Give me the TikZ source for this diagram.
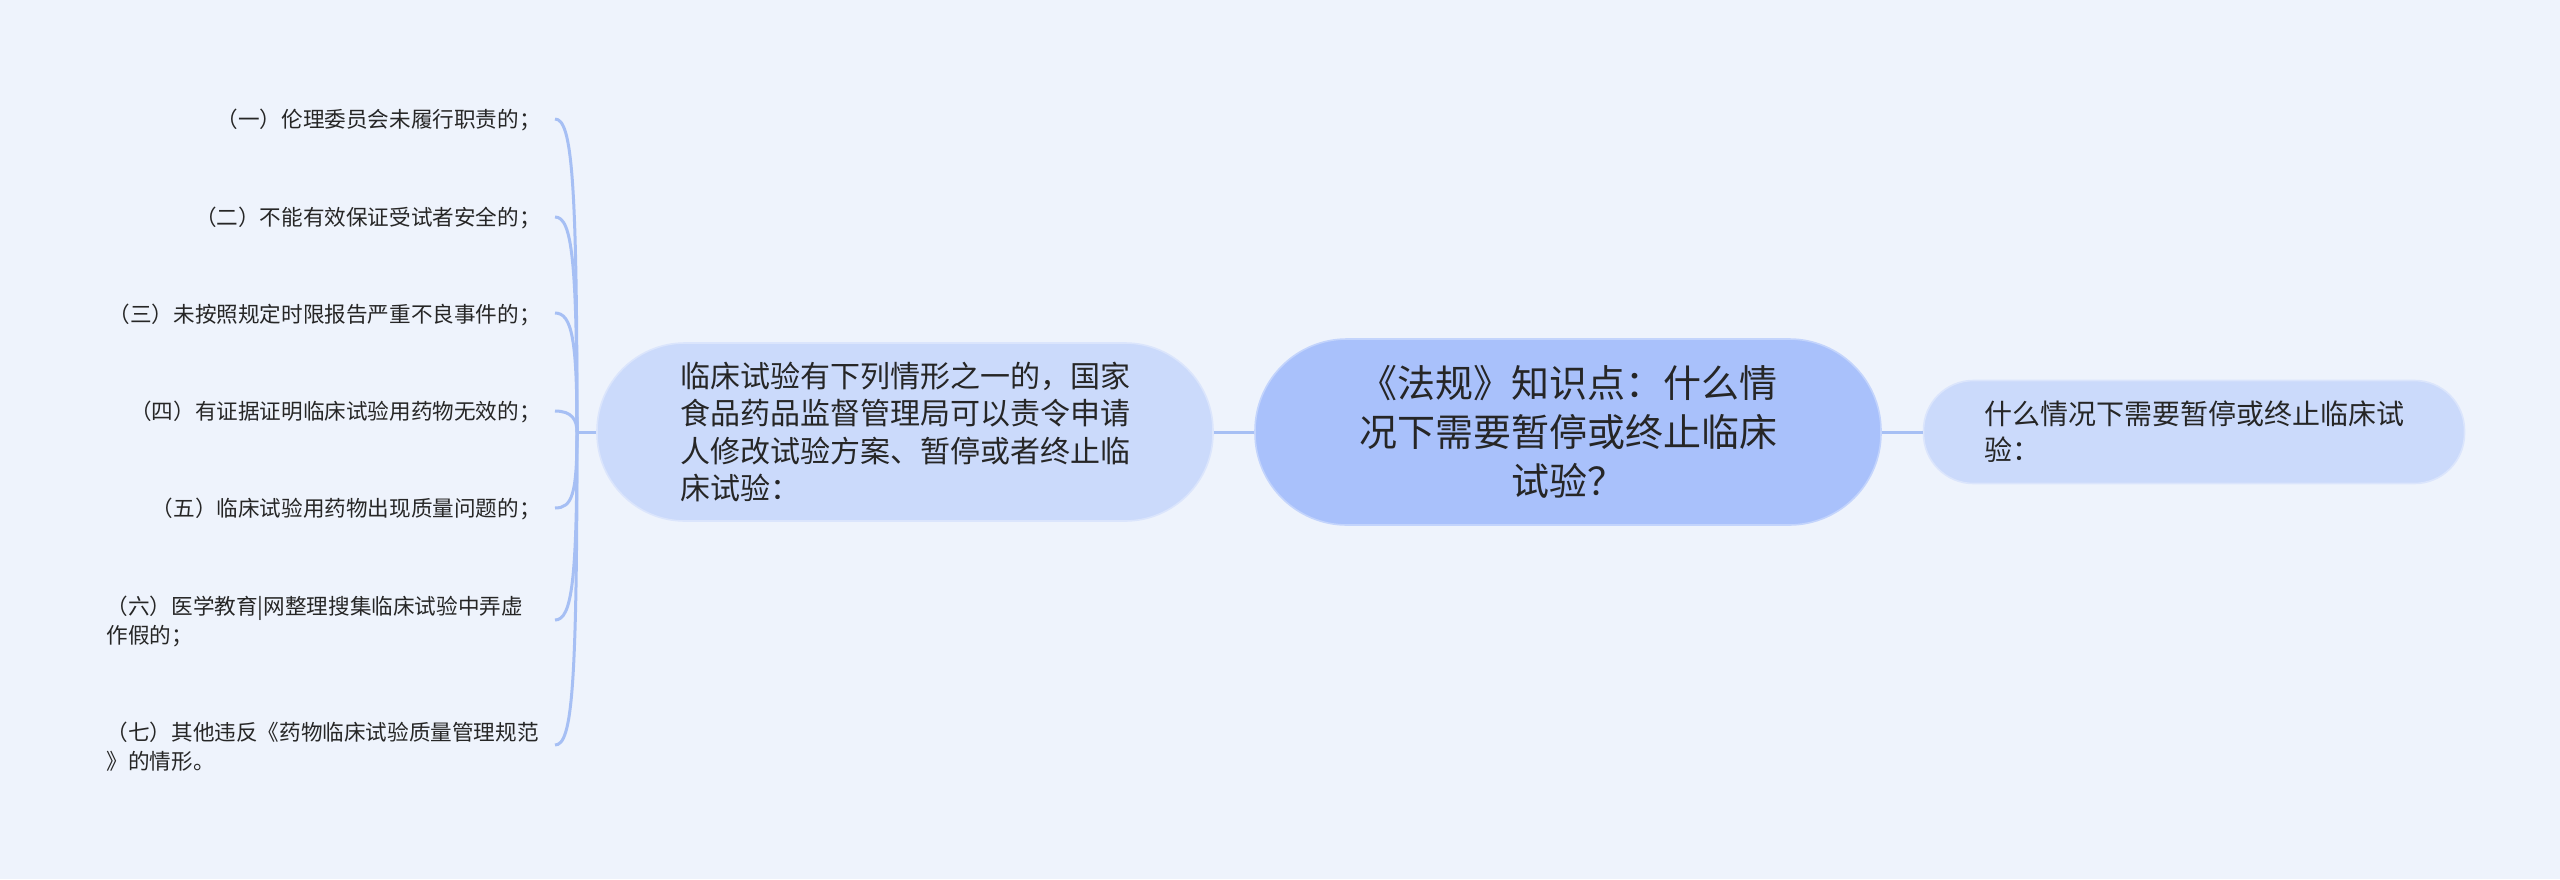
\documentclass[tikz,border=0pt]{standalone}
\usepackage{fontspec}
\setmainfont{Noto Sans CJK SC}
\definecolor{bg}{HTML}{EEF3FC}
\definecolor{rootfill}{HTML}{A9C1FB}
\definecolor{subfill}{HTML}{CBDAFB}
\definecolor{linec}{HTML}{A6BFF4}
\definecolor{txt}{HTML}{262626}
\tikzset{
  rootbox/.style={fill=rootfill, draw=rootfill!70!white, line width=0.8pt, rectangle, rounded corners=46pt,
    minimum width=313pt, minimum height=93pt, inner sep=0pt, text=txt, align=center,
    font=\fontsize{19}{24.5}\selectfont},
  subbox/.style={fill=subfill, draw=subfill!70!white, line width=0.8pt, rectangle, inner sep=0pt, text=txt, align=left},
  leaf/.style={anchor=east, inner sep=0pt, text=txt, font=\fontsize{10.8}{14.5}\selectfont},
  conn/.style={draw=linec, line width=1.5pt},
}
\begin{document}
\begin{tikzpicture}[x=0.5pt,y=-0.5pt]
\fill[bg] (0,0) rectangle (2560,879);
\useasboundingbox (0,0) rectangle (2560,879);

\node[rootbox] (root) at (1568,432) {《法规》知识点：什么情\\况下需要暂停或终止临床\\试验？};
\node[subbox, rounded corners=44pt, minimum width=308pt, minimum height=89pt,
  font=\fontsize{15}{18.8}\selectfont] (mid) at (905,432)
  {临床试验有下列情形之一的，国家\\食品药品监督管理局可以责令申请\\人修改试验方案、暂停或者终止临\\床试验：};
\node[subbox, rounded corners=25pt, minimum width=270.5pt, minimum height=51.5pt,
  font=\fontsize{14}{18}\selectfont] (right) at (2194,432)
  {什么情况下需要暂停或终止临床试\\验：};

\node[leaf, align=right] (l1) at (541,120) {（一）伦理委员会未履行职责的；};
\node[leaf, align=right] (l2) at (541,218) {（二）不能有效保证受试者安全的；};
\node[leaf, align=right] (l3) at (541,315) {（三）未按照规定时限报告严重不良事件的；};
\node[leaf, align=right] (l4) at (541,412) {（四）有证据证明临床试验用药物无效的；};
\node[leaf, align=right] (l5) at (541,509) {（五）临床试验用药物出现质量问题的；};
\node[leaf, align=left, text width=217pt] (l6) at (541,621) {（六）医学教育|网整理搜集临床试验中弄虚\\作假的；};
\node[leaf, align=left, text width=217pt] (l7) at (541,747) {（七）其他违反《药物临床试验质量管理规范\\》的情形。};

\coordinate (j) at (577,432);
\coordinate (t1) at (555,119);
\coordinate (t2) at (555,217);
\coordinate (t3) at (555,313);
\coordinate (t4) at (555,411);
\coordinate (t5) at (555,508);
\coordinate (t6) at (555,620);
\coordinate (t7) at (555,745);

\draw[conn] (root.east) -- (right.west);
\draw[conn] (mid.east) -- (root.west);
\draw[conn] (mid.west) -- (j);
\draw[conn] (j) .. controls (577,180) and (572,119) .. (t1);
\draw[conn] (j) .. controls (577,260) and (572,217) .. (t2);
\draw[conn] (j) .. controls (577,340) and (572,313) .. (t3);
\draw[conn] (j) .. controls (577,420) and (572,411) .. (t4);
\draw[conn] (j) .. controls (577,495) and (572,508) .. (t5);
\draw[conn] (j) .. controls (577,580) and (572,620) .. (t6);
\draw[conn] (j) .. controls (577,690) and (572,745) .. (t7);
\end{tikzpicture}
\end{document}
